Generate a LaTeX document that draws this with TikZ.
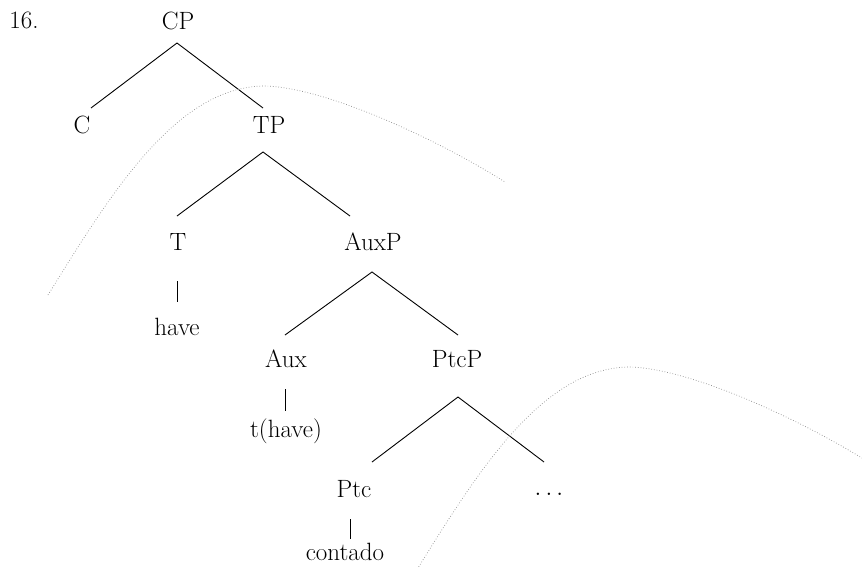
\documentclass[tikz,border=0pt]{standalone}
\usetikzlibrary{calc}
\begin{document}
\begin{tikzpicture}[
x=1pt,y=-1pt,
lbl/.style={font=\fontsize{25}{29}\selectfont,inner sep=0pt,anchor=base},
branch/.style={draw,line width=0.9pt},
trace/.style={draw,black!45,dotted,line width=0.7pt},
]
\useasboundingbox (0,0) rectangle (862,566);
% labels
\node[lbl] (num) at (24,28) {16.};
\node[lbl] (cp) at (178,29) {CP};
\node[lbl] (c) at (82,133) {C};
\node[lbl] (tp) at (269,133) {TP};
\node[lbl] (t) at (178,250) {T};
\node[lbl] (auxp) at (373,250) {AuxP};
\node[lbl] (have) at (177,335) {have};
\node[lbl] (aux) at (286,367) {Aux};
\node[lbl] (ptcp) at (457,367) {PtcP};
\node[lbl] (thave) at (286,437) {t(have)};
\node[lbl] (ptc) at (354,497) {Ptc};
\node[lbl] (rest) at (549,495) {$\ldots$};
\node[lbl] (contado) at (345,560) {contado};
% branches
\path[branch]
    ($(c.base)+(9,-25)$) -- ($(cp.base)+(-1,14)$) -- ($(tp.base)+(-6,-25)$)
    ($(t.base)+(-1,-34)$) -- ($(tp.base)+(-6,19)$) -- ($(auxp.base)+(-23,-34)$)
    ($(aux.base)+(-1,-32)$) -- ($(auxp.base)+(-1,22)$) -- ($(ptcp.base)+(1,-32)$)
    ($(ptc.base)+(18,-35)$) -- ($(ptcp.base)+(1,30)$) -- ($(rest.base)+(-5,-33)$);
\path[branch]
    ($(t.base)+(-1,31)$) -- ($(have.base)+(0,-33)$)
    ($(aux.base)+(-1,22)$) -- ($(thave.base)+(-1,-26)$)
    ($(ptc.base)+(-4,22)$) -- ($(contado.base)+(5,-21)$);
% movement curves
\begin{scope}
\clip (0,0) rectangle (862,566);
\path[trace] (48,295) .. controls (110,195) and (175,88) .. (263,86)
    .. controls (320,86) and (430,135) .. (505,182);
\path[trace,shift={(365,281)}] (48,295) .. controls (110,195) and (175,88) .. (263,86)
    .. controls (320,86) and (430,135) .. (505,182);
\end{scope}
\end{tikzpicture}
\end{document}
